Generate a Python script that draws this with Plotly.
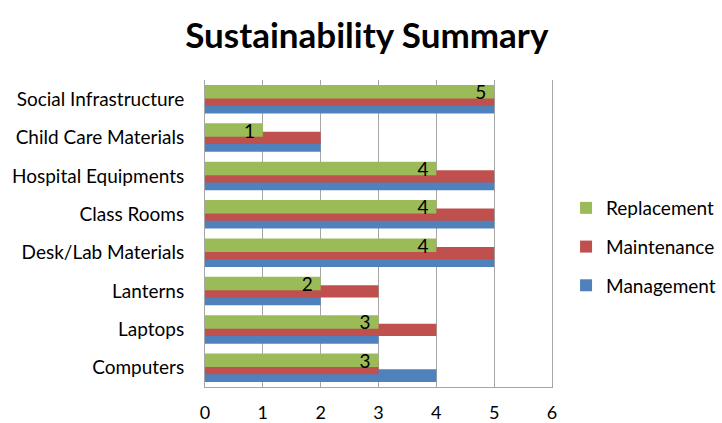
import plotly.graph_objects as go

categories = ["Computers", "Laptops", "Lanterns", "Desk/Lab Materials", "Class Rooms",
              "Hospital Equipments", "Child Care Materials", "Social Infrastructure"]
management = [4, 3, 2, 5, 5, 5, 2, 5]
maintenance = [3, 4, 3, 5, 5, 5, 2, 5]
replacement = [3, 3, 2, 4, 4, 4, 1, 5]
x_ticks = [0, 1, 2, 3, 4, 5, 6]

FONT = "Lato"

fig = go.Figure()
fig.add_trace(go.Bar(
    y=categories, x=management, name="Management", orientation="h",
    marker=dict(color="#4F81BD", line=dict(width=0)),
    width=0.33, offset=-0.37, legendgroup="c", legendrank=3,
))
fig.add_trace(go.Bar(
    y=categories, x=maintenance, name="Maintenance", orientation="h",
    marker=dict(color="#C0504D", line=dict(width=0)),
    width=0.32, offset=-0.17, legendgroup="b", legendrank=2,
))
fig.add_trace(go.Bar(
    y=categories, x=replacement, name="Replacement", orientation="h",
    marker=dict(color="#9BBB59", line=dict(width=0)),
    width=0.35, offset=0.02, legendgroup="a", legendrank=1,
    text=[str(v) + "\u00a0" for v in replacement], textposition="inside", textangle=0,
    insidetextanchor="end", constraintext="none",
    textfont=dict(family=FONT, size=19, color="black"),
))

fig.update_layout(
    width=722, height=423,
    barmode="overlay",
    paper_bgcolor="white", plot_bgcolor="white",
    margin=dict(l=205, r=170, t=80, b=36, autoexpand=False),
    font=dict(family=FONT, size=18, color="black"),
    title=dict(text="<b>Sustainability Summary</b>", x=0.508, xanchor="center",
               y=0.915, yanchor="middle",
               font=dict(family=FONT, size=35, color="black")),
    legend=dict(xref="container", yref="container", x=0.784, y=0.416,
                xanchor="left", yanchor="middle",
                traceorder="grouped", tracegroupgap=11,
                font=dict(family=FONT, size=19), bgcolor="rgba(0,0,0,0)"),
    showlegend=True,
)
fig.update_xaxes(range=[0, 6], tickvals=x_ticks, showgrid=True, gridcolor="#A6A6A6",
                 gridwidth=1, showline=True, linecolor="#A6A6A6", mirror=False,
                 zeroline=False, ticks="", ticklabelstandoff=9, automargin=False,
                 tickfont=dict(family=FONT, size=18))
fig.update_yaxes(categoryorder="array", categoryarray=categories, showline=True,
                 mirror=True, linecolor="#A6A6A6", ticks="", ticklabelstandoff=16,
                 automargin=False, tickfont=dict(family=FONT, size=19))

fig.write_html("out.html")
